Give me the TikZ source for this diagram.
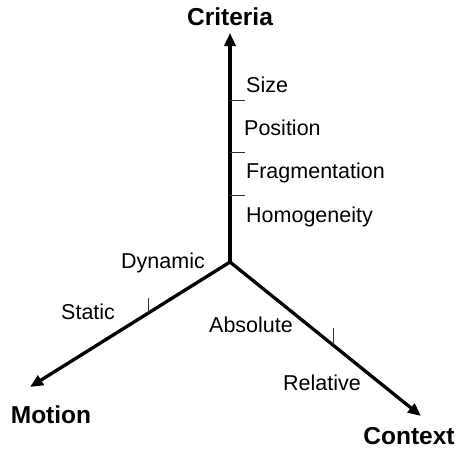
\documentclass[tikz,border=0pt]{standalone}
\usepackage{fontspec}
\setmainfont{Liberation Sans}
\usetikzlibrary{arrows.meta}
\begin{document}
\begin{tikzpicture}[x=1pt,y=-1pt,
  axis/.style={line width=3.3pt,-{Triangle[length=13pt,width=11pt]}},
  tick/.style={line width=0.8pt,draw=black!80},
  lab/.style={inner sep=0pt,anchor=base west,font=\fontsize{21.5}{25}\selectfont},
  ttl/.style={inner sep=0pt,anchor=base,font=\fontsize{24.5}{28}\selectfont\bfseries}]
\useasboundingbox (0,0) rectangle (458,450);
\coordinate (O) at (230,262);
\coordinate (C) at (230,33);
\coordinate (M) at (30,387);
\coordinate (X) at (421,416);
\draw[axis] (O) -- (C);
\draw[axis] (O) -- (M);
\draw[axis] (O) -- (X);
% ticks
\coordinate (t1a) at (230,100); \coordinate (t1b) at (245,100);
\coordinate (t2a) at (230,152); \coordinate (t2b) at (245,152);
\coordinate (t3a) at (230,195); \coordinate (t3b) at (245,195);
\coordinate (t4a) at (148,313); \coordinate (t4b) at (148,298);
\coordinate (t5a) at (333,345); \coordinate (t5b) at (333,328);
\draw[tick] (t1a) -- (t1b);
\draw[tick] (t2a) -- (t2b);
\draw[tick] (t3a) -- (t3b);
\draw[tick] (t4a) -- (t4b);
\draw[tick] (t5a) -- (t5b);
% titles
\node[ttl] (crit) at (230,25) {Criteria};
\node[ttl] (mot) at (51,423) {Motion};
\node[ttl] (ctx) at (409,444) {Context};
% labels
\node[lab] (size) at (246,92) {Size};
\node[lab] (pos) at (244,135) {Position};
\node[lab] (frag) at (246,178) {Fragmentation};
\node[lab] (homo) at (246,222) {Homogeneity};
\node[lab] (dyn) at (121,268) {Dynamic};
\node[lab] (stat) at (61,319) {Static};
\node[lab] (abs) at (209,332) {Absolute};
\node[lab] (rel) at (283,390) {Relative};
\end{tikzpicture}
\end{document}
